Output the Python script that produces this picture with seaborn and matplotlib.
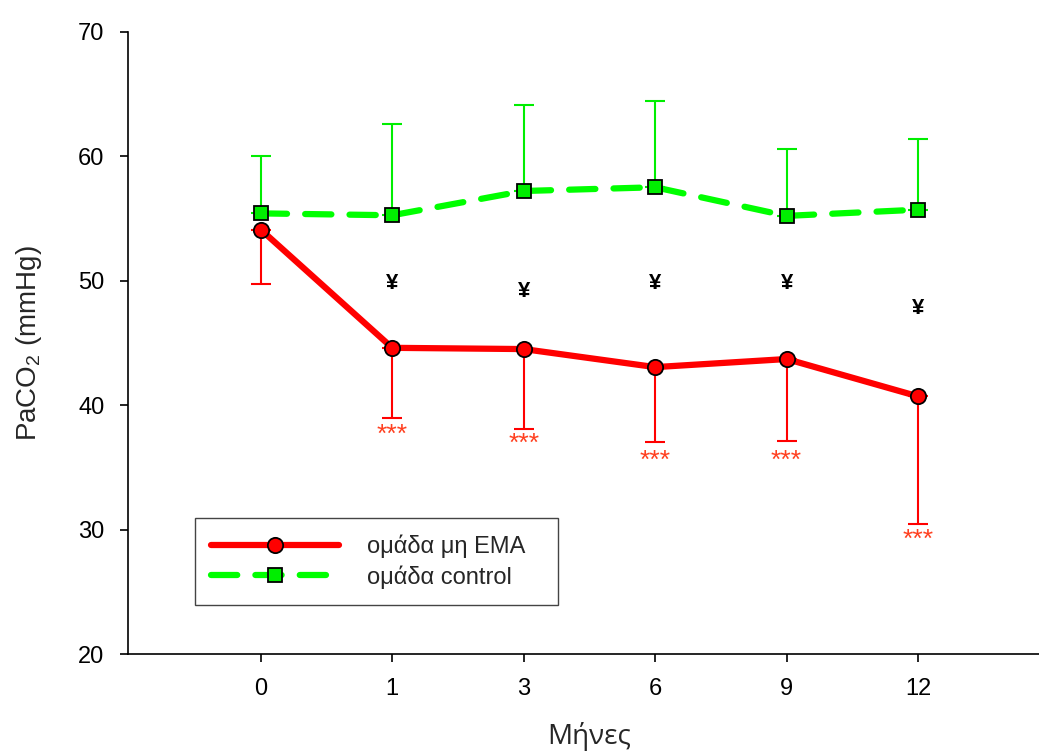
import numpy as np
import pandas as pd
import matplotlib
matplotlib.use('Agg')
import matplotlib.pyplot as plt
import seaborn as sns

# --- data ---
months = ['0', '1', '3', '6', '9', '12']
ema_mean = [54.1, 44.6, 44.5, 43.05, 43.7, 40.7]
ema_sd = [4.4, 5.6, 6.4, 6.05, 6.6, 10.25]
ctrl_mean = [55.4, 55.25, 57.2, 57.5, 55.2, 55.7]
ctrl_sd = [4.6, 7.3, 6.9, 6.9, 5.4, 5.7]
yen_y = [49.8, 49.1, 49.8, 49.8, 47.75]      # ¥ marks at months 1..12
star_y = [37.6, 36.9, 35.5, 35.5, 29.2]      # *** marks at months 1..12

sns.set_style('ticks')
plt.rcParams['font.family'] = ['Liberation Sans', 'DejaVu Sans']
plt.rcParams['mathtext.fontset'] = 'custom'
plt.rcParams['mathtext.rm'] = 'Liberation Sans'

pos = np.arange(len(months))
df = pd.DataFrame({'pos': pos, 'ema': ema_mean, 'ctrl': ctrl_mean})

fig = plt.figure(figsize=(10.39, 7.54), dpi=100)
ax = fig.add_axes([0.1232, 0.1326, 0.8768, 0.8254])

# one-sided error bars (down for EMA, up for control)
ax.errorbar(pos, ema_mean, yerr=[ema_sd, np.zeros(len(pos))], fmt='none',
            ecolor='#ff0000', elinewidth=1.5, capsize=7, capthick=1.5, zorder=2)
ax.errorbar(pos, ctrl_mean, yerr=[np.zeros(len(pos)), ctrl_sd], fmt='none',
            ecolor='#00ee00', elinewidth=1.5, capsize=7, capthick=1.5, zorder=2)

sns.lineplot(data=df, x='pos', y='ema', ax=ax, color='#ff0000', linewidth=4.5,
             marker='o', markersize=11, markerfacecolor='#ff0000',
             markeredgecolor='black', markeredgewidth=1.3,
             label='ομάδα μη EMA', zorder=3)
sns.lineplot(data=df, x='pos', y='ctrl', ax=ax, color='#00ff00', linewidth=4.5,
             linestyle=(0, (4.2, 2.9)), dash_capstyle='round',
             marker='s', markersize=10, markerfacecolor='#00ee00',
             markeredgecolor='black', markeredgewidth=1.3,
             label='ομάδα control', zorder=3)

for i, y in enumerate(yen_y):
    ax.text(pos[i + 1], y, '¥', ha='center', va='center', fontsize=16,
            fontweight='bold', color='black')
for i, y in enumerate(star_y):
    ax.text(pos[i + 1], y, '***', ha='center', va='center', fontsize=19,
            color='#ff4020')

ax.set_xlim(-1.01, 5.92)
ax.set_ylim(20, 70)
ax.set_xticks(pos)
ax.set_xticklabels(months)
ax.set_yticks([20, 30, 40, 50, 60, 70])
ax.tick_params(axis='both', direction='out', length=6, width=1.2,
               labelsize=17, pad=11, colors='black')
for s in ['top', 'right']:
    ax.spines[s].set_visible(False)
for s in ['left', 'bottom']:
    ax.spines[s].set_linewidth(1.2)
    ax.spines[s].set_color('black')

ax.set_ylabel('PaCO$_\\mathregular{2}$ (mmHg)', fontsize=20)
ax.yaxis.set_label_coords(-0.092, 0.5)
ax.set_xlabel('Μήνες', fontsize=20, family=['Open Sans', 'DejaVu Sans'])
ax.xaxis.set_label_coords(0.506, -0.11)

leg = ax.legend(loc='center left', bbox_to_anchor=(0.0735, 0.0739, 0.398, 0.149),
                mode='expand', fontsize=17, frameon=True, fancybox=False,
                handlelength=5.4, handletextpad=1.2, labelspacing=0.3,
                borderpad=0.7, borderaxespad=0, numpoints=1)
leg.get_frame().set_edgecolor('#444444')
leg.get_frame().set_linewidth(1.0)
leg.get_frame().set_alpha(1)

fig.savefig('out.png', dpi=100)
